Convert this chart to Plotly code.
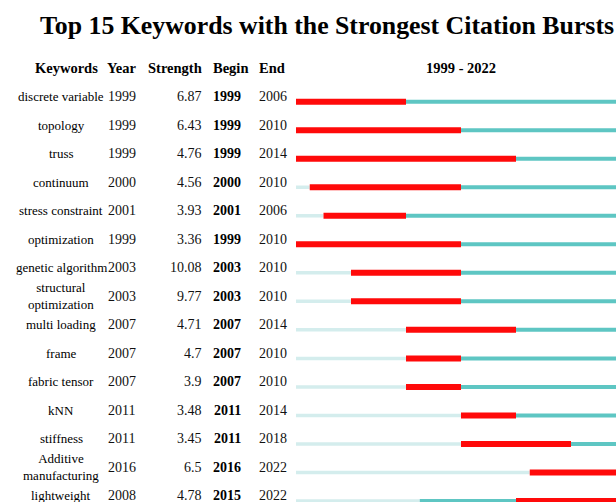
import plotly.graph_objects as go

keywords = ["discrete variable", "topology", "truss", "continuum", "stress constraint",
            "optimization", "genetic algorithm", "structural<br>optimization", "multi loading",
            "frame", "fabric tensor", "kNN", "stiffness", "Additive<br>manufacturing", "lightweight"]
years = [1999, 1999, 1999, 2000, 2001, 1999, 2003, 2003, 2007, 2007, 2007, 2011, 2011, 2016, 2008]
strengths = ["6.87", "6.43", "4.76", "4.56", "3.93", "3.36", "10.08", "9.77", "4.71", "4.7",
             "3.9", "3.48", "3.45", "6.5", "4.78"]
begins = [1999, 1999, 1999, 2000, 2001, 1999, 2003, 2003, 2007, 2007, 2007, 2011, 2011, 2016, 2015]
ends = [2006, 2010, 2014, 2010, 2006, 2010, 2010, 2010, 2014, 2010, 2010, 2014, 2018, 2022, 2022]
headers = ["Keywords", "Year", "Strength", "Begin", "End"]
start_year, end_year = 1999, 2022

RED = "#FF0A0A"
TEAL = "#5EC6C3"
LIGHT = "#D4EDED"
FONT = "Liberation Serif, Times New Roman, serif"

W, H = 616, 502
px_per_year = 13.75
x0_px = 296
row0_px = 101.7
row_gap = 28.52

fig = go.Figure()

lx, ly, tx, ty, rx, ry = [], [], [], [], [], []
for i in range(len(keywords)):
    if years[i] > start_year:
        lx += [start_year, years[i], None]; ly += [i, i, None]
    if begins[i] > years[i]:
        tx += [years[i], begins[i], None]; ty += [i, i, None]
    if ends[i] + 1 < end_year + 1:
        tx += [ends[i] + 1, end_year + 1, None]; ty += [i, i, None]
    rx += [begins[i], ends[i] + 1, None]; ry += [i, i, None]

fig.add_trace(go.Scatter(x=lx, y=ly, mode="lines", line=dict(color=LIGHT, width=3.5),
                         hoverinfo="skip", showlegend=False))
fig.add_trace(go.Scatter(x=tx, y=ty, mode="lines", line=dict(color=TEAL, width=4),
                         hoverinfo="skip", showlegend=False))
fig.add_trace(go.Scatter(x=rx, y=ry, mode="lines", line=dict(color=RED, width=6),
                         hoverinfo="skip", showlegend=False))

ann = []
ann.append(dict(text="<b>Top 15 Keywords with the Strongest Citation Bursts</b>",
                x=327 / W, y=1 - 26 / H, xref="paper", yref="paper",
                xanchor="center", yanchor="middle",
                showarrow=False, font=dict(family=FONT, size=25.8, color="#000")))
head_x = [66, 122, 175, 230.5, 272]
for h, hx in zip(headers, head_x):
    ann.append(dict(text=f"<b>{h}</b>", x=hx / W, y=1 - 68.3 / H, xref="paper", yref="paper",
                    xanchor="center", yanchor="middle",
                    showarrow=False, font=dict(family=FONT, size=14.5, color="#000")))
ann.append(dict(text=f"<b>{start_year} - {end_year}</b>", x=460.7 / W, y=1 - 68.3 / H,
                xref="paper", yref="paper", xanchor="center", yanchor="middle", showarrow=False,
                font=dict(family=FONT, size=14.5, color="#000")))

for i in range(len(keywords)):
    f = dict(family=FONT, size=13, color="#000")
    common = dict(y=i, yshift=5, xref="paper", yref="y", yanchor="middle", showarrow=False)
    ann.append(dict(text=keywords[i], x=61 / W, font=f, xanchor="center", **common))
    ann.append(dict(text=str(years[i]), x=121.5 / W, font=dict(f, size=14, color="#111"),
                    xanchor="center", **common))
    ann.append(dict(text=strengths[i], x=203.5 / W, font=dict(f, size=14, color="#111"),
                    xanchor="right", **common))
    ann.append(dict(text=f"<b>{begins[i]}</b>", x=227 / W, font=dict(f, size=14),
                    xanchor="center", **common))
    ann.append(dict(text=str(ends[i]), x=273 / W, font=dict(f, size=14, color="#111"),
                    xanchor="center", **common))

top_idx = -row0_px / row_gap
bot_idx = (H - row0_px) / row_gap

fig.update_layout(
    width=W, height=H, margin=dict(l=0, r=0, t=0, b=0),
    paper_bgcolor="white", plot_bgcolor="white",
    xaxis=dict(domain=[x0_px / W, 1], range=[start_year, start_year + (W - x0_px) / px_per_year],
               visible=False, fixedrange=True),
    yaxis=dict(domain=[0, 1], range=[bot_idx, top_idx], visible=False, fixedrange=True),
    annotations=ann,
)

fig.write_html("out.html")
